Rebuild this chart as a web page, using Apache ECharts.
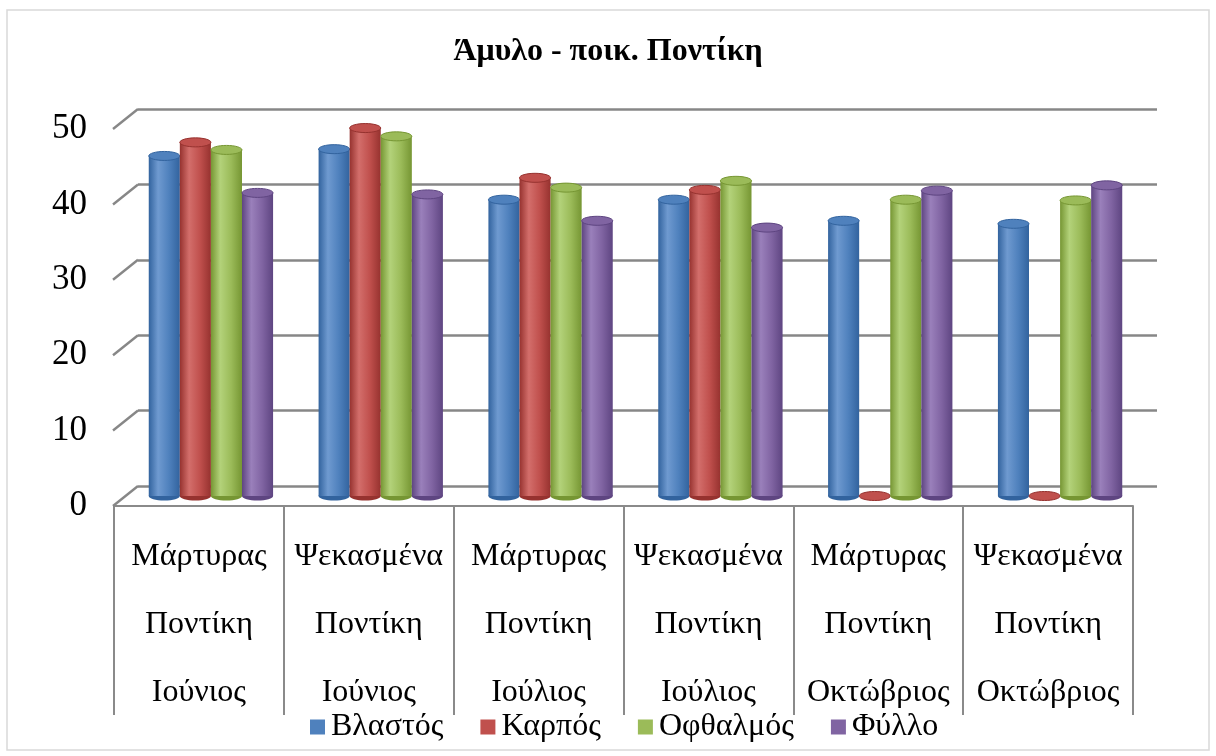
<!DOCTYPE html>
<html>
<head>
<meta charset="utf-8">
<script src="https://cdn.jsdelivr.net/npm/echarts@6/dist/echarts.min.js"></script>
<style>
html, body { margin: 0; padding: 0; background: #fff; }
#chart { width: 1216px; height: 756px; }
</style>
</head>
<body>
<div id="chart"></div>
<script>
// categories (3 label rows each)
const categories = [
    'Μάρτυρας\nΠοντίκη\nΙούνιος',
    'Ψεκασμένα\nΠοντίκη\nΙούνιος',
    'Μάρτυρας\nΠοντίκη\nΙούλιος',
    'Ψεκασμένα\nΠοντίκη\nΙούλιος',
    'Μάρτυρας\nΠοντίκη\nΟκτώβριος',
    'Ψεκασμένα\nΠοντίκη\nΟκτώβριος'
];
const vlastos = [45.1, 46.0, 39.3, 39.3, 36.5, 36.1];
const karpos = [46.9, 48.8, 42.2, 40.6, 0, 0];
const ofthalmos = [45.9, 47.7, 40.9, 41.8, 39.3, 39.2];
const fyllo = [40.2, 40.0, 36.5, 35.6, 40.5, 41.2];
const yTicks = [0, 10, 20, 30, 40, 50];

const seriesNames = ['Βλαστός', 'Καρπός', 'Οφθαλμός', 'Φύλλο'];
const seriesData = [vlastos, karpos, ofthalmos, fyllo];
// base, dark, light
const palette = [
    ['#4f81bd', '#32639e', '#6f9ad0'],
    ['#c0504d', '#96322f', '#d36e6b'],
    ['#9bbb59', '#769633', '#b3d27a'],
    ['#8064a2', '#5e4581', '#9a80bb']
];

const FONT = "'Liberation Serif', 'Times New Roman', serif";
const DX = 24, DY = 20;   // depth of the 3D floor

let chartObj = echarts.init(document.getElementById('chart'));

//圆柱
function cylinder(idx) {
    return function (params, api) {
        const cat = api.value(0);
        const v = api.value(1);
        const base = api.coord([cat, 0]);
        const top = api.coord([cat, v]);
        const catW = api.size([1, 0])[0];
        const bw = catW * 0.183;
        const cx = base[0] + (idx - 1.5) * bw;
        const rx = bw / 2, ry = 4.5;
        const c = palette[idx];
        const grad = new echarts.graphic.LinearGradient(0, 0, 1, 0, [
            {offset: 0, color: c[1]},
            {offset: 0.3, color: c[2]},
            {offset: 0.65, color: c[0]},
            {offset: 1, color: c[1]}
        ]);
        const children = [
            {type: 'ellipse', shape: {cx: cx, cy: base[1], rx: rx, ry: ry}, style: {fill: c[1]}}
        ];
        if (v > 0) {
            children.push({type: 'rect', shape: {x: cx - rx, y: top[1], width: bw, height: base[1] - top[1]}, style: {fill: grad}});
            children.push({type: 'ellipse', shape: {cx: cx, cy: top[1], rx: rx, ry: ry}, style: {fill: c[0], stroke: c[1], lineWidth: 1}});
        } else {
            children[0].style.fill = c[0];
            children[0].style.stroke = c[1];
        }
        return {type: 'group', children: children};
    };
}

const barSeries = seriesNames.map((name, i) => ({
    name: name,
    type: 'custom',
    xAxisIndex: 1,
    yAxisIndex: 1,
    itemStyle: {color: palette[i][0]},
    renderItem: cylinder(i),
    data: seriesData[i].map((v, k) => [k, v]),
    z: 5
}));

let options = {
    animation: false,
    title: {
        text: 'Άμυλο - ποικ. Ποντίκη',
        left: 'center',
        top: 31,
        textStyle: {fontFamily: FONT, fontSize: 32, fontWeight: 'bold', color: '#000'}
    },
    legend: {
        data: seriesNames,
        left: 305,
        top: 706,
        icon: 'rect',
        itemWidth: 15,
        itemHeight: 15,
        itemGap: 37,
        textStyle: {fontFamily: FONT, fontSize: 32, color: '#000', padding: [0, 0, 0, 1]}
    },
    graphic: [{
        type: 'rect',
        shape: {x: 7, y: 10, width: 1202, height: 740},
        style: {fill: 'none', stroke: '#d9d9d9', lineWidth: 1.5},
        silent: true
    }],
    grid: [
        // back wall
        {left: 114 + DX, right: 83 - DX, top: 129 - DY, bottom: 250 + DY},
        // middle plane (bars)
        {left: 114 + DX / 2, right: 83 - DX / 2, top: 129 - DY / 2, bottom: 250 + DY / 2},
        // front plane (labels, category table)
        {left: 114, right: 83, top: 129, bottom: 250}
    ],
    xAxis: [
        {gridIndex: 0, type: 'value', min: 0, max: 1, show: false},
        {gridIndex: 1, type: 'category', data: categories, show: false},
        {
            gridIndex: 2,
            type: 'category',
            data: categories,
            axisLine: {lineStyle: {color: '#8a8a8a', width: 2}},
            axisTick: {show: true, interval: 0, length: 209, lineStyle: {color: '#8a8a8a', width: 2}},
            axisLabel: {interval: 0, fontFamily: FONT, fontSize: 32, color: '#000', lineHeight: 68, margin: 17}
        }
    ],
    yAxis: [
        {
            gridIndex: 0, type: 'value', min: 0, max: 50, interval: 10,
            axisLine: {show: false}, axisTick: {show: false}, axisLabel: {show: false},
            splitLine: {lineStyle: {color: '#878787', width: 2.5}}
        },
        {gridIndex: 1, type: 'value', min: 0, max: 50, interval: 10, show: false, splitLine: {show: false}},
        {
            gridIndex: 2, type: 'value', min: 0, max: 50, interval: 10,
            axisLine: {show: false}, axisTick: {show: false}, splitLine: {show: false},
            axisLabel: {fontFamily: FONT, fontSize: 35, color: '#000', margin: 27}
        }
    ],
    series: barSeries.concat([{
        // diagonal floor/wall ticks
        type: 'custom',
        xAxisIndex: 0,
        yAxisIndex: 0,
        silent: true,
        z: 1,
        renderItem: function (params, api) {
            const p = api.coord([0, api.value(0)]);
            return {
                type: 'line',
                shape: {x1: p[0], y1: p[1], x2: p[0] - DX - 1, y2: p[1] + DY},
                style: {stroke: '#878787', lineWidth: 2.5}
            };
        },
        data: yTicks.map(v => [v])
    }])
};

chartObj.setOption(options);
</script>
</body>
</html>
